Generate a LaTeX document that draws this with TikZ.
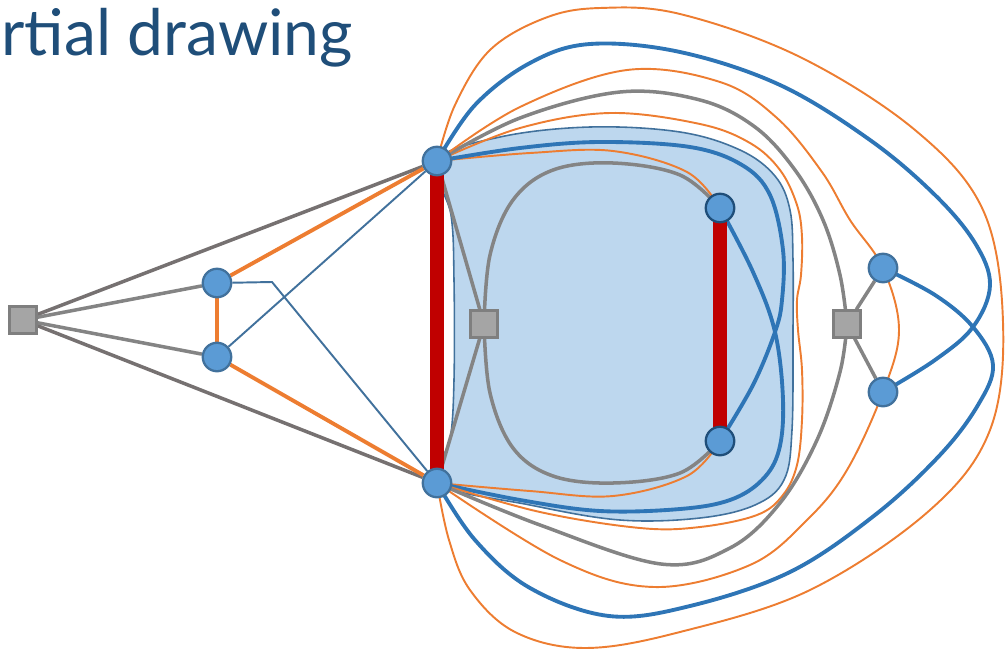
\documentclass[tikz,border=0pt]{standalone}
\usepackage{fontspec}
\setmainfont{Lato}
\definecolor{titleblue}{RGB}{31,78,121}
\definecolor{nodefill}{RGB}{91,155,213}
\definecolor{nodeline}{RGB}{65,113,156}
\definecolor{nodedark}{RGB}{31,78,121}
\definecolor{sqfill}{RGB}{165,165,165}
\definecolor{sqline}{RGB}{127,127,127}
\definecolor{edgegray}{RGB}{132,132,132}
\definecolor{edgedark}{RGB}{118,113,113}
\definecolor{edgeorange}{RGB}{237,125,49}
\definecolor{edgeblue}{RGB}{46,117,182}
\definecolor{thinblue}{RGB}{65,113,156}
\definecolor{regionfill}{RGB}{189,215,238}
\definecolor{barred}{RGB}{192,0,0}
\usetikzlibrary{backgrounds}

\begin{document}
\begin{tikzpicture}[x=0.02cm, y=-0.02cm,
      vtx/.style={circle, fill=nodefill, draw=nodeline, line width=1.3pt,
                  minimum size=0.57cm, inner sep=0pt},
      vtxdark/.style={vtx, draw=nodedark},
      sq/.style={rectangle, fill=sqfill, draw=sqline, line width=1.2pt,
                 minimum size=0.54cm, inner sep=0pt},
      grayedge/.style={edgegray, line width=2pt},
      darkedge/.style={edgedark, line width=2pt},
      orthick/.style={edgeorange, line width=2.2pt},
      orthin/.style={edgeorange, line width=1.1pt},
      bluethick/.style={edgeblue, line width=2.2pt},
      bluethin/.style={thinblue, line width=1.1pt},
      redbar/.style={barred, line width=8.5pt},
      region/.style={fill=regionfill, draw=thinblue, line width=0.9pt},
      curvy/.style={smooth, tension=0.6}
    ]
    \useasboundingbox (0,0) rectangle (1008,653);
    \node[anchor=base west, inner sep=0pt, text=titleblue,
          font=\fontsize{36.5}{42}\selectfont] (title) at (1,55) {rtial drawing};

    % vertices
    \node[sq] (s0) at (23,320) {};
    \node[vtx] (a) at (217,283) {};
    \node[vtx] (b) at (217,357) {};
    \node[vtx] (u) at (437,161) {};
    \node[vtx] (d) at (437,483) {};
    \node[sq] (s1) at (484,324) {};
    \node[vtxdark] (p) at (720,208) {};
    \node[vtxdark] (q) at (720,441) {};
    \node[sq] (s2) at (847,324) {};
    \node[vtx] (r1) at (883,268) {};
    \node[vtx] (r2) at (883,392) {};
    \coordinate (kink) at (272,282);

    \begin{scope}[on background layer]
      % shaded face
      \draw[region] plot[curvy, smooth cycle] coordinates {(u.center) (500,137)
        (590,127) (680,132) (740,150) (775,176) (790,210) (793,260) (793,330)
        (792,430) (784,480) (755,505) (700,518) (620,520) (530,505) (d.center)
        (450,440) (454,380) (454,280) (451,215)};
      % left part
      \draw[darkedge] (s0) -- (u);
      \draw[darkedge] (s0) -- (d);
      \draw[grayedge] (s0) -- (a);
      \draw[grayedge] (s0) -- (b);
      \draw[orthick] (a) -- (b);
      \draw[orthick] (a) -- (u);
      \draw[orthick] (b) -- (d);
      \draw[bluethin] (a) -- (kink) -- (d);
      \draw[bluethin] (b) -- (u);
      % inside the face
      \draw[grayedge] (u) -- (s1);
      \draw[grayedge] (d) -- (s1);
      \draw[grayedge] plot[curvy] coordinates {(s1.center) (490,255) (513,200)
        (553,170) (613,163) (680,175) (p.center)};
      \draw[grayedge] plot[curvy] coordinates {(s1.center) (490,393) (513,448)
        (553,476) (613,483) (680,473) (q.center)};
      \draw[orthin] plot[curvy] coordinates {(u.center) (530,153) (613,151)
        (687,172) (p.center)};
      \draw[orthin] plot[curvy] coordinates {(d.center) (530,491) (613,496)
        (687,476) (q.center)};
      \draw[bluethick] plot[curvy] coordinates {(u.center) (520,148) (600,142)
        (690,147) (742,165) (770,195) (783,250) (782,300) (775,332) (753,385)
        (q.center)};
      \draw[bluethick] plot[curvy] coordinates {(p.center) (753,272) (775,332)
        (783,400) (779,450) (762,480) (730,500) (680,509) (600,511) (520,500)
        (d.center)};
      % around the face
      \draw[orthin] plot[curvy] coordinates {(u.center) (520,128) (610,113)
        (700,124) (750,143) (780,170) (797,205) (802,237) (801,275) (797,300)
        (798,330) (802,370) (802,420) (797,465) (783,495) (757,515) (700,527)
        (640,528) (540,512) (d.center)};
      \draw[grayedge] plot[curvy] coordinates {(u.center) (520,118) (620,92)
        (700,100) (755,127) (795,170) (823,220) (840,275) (s2.center)};
      \draw[grayedge] plot[curvy] coordinates {(d.center) (540,525) (661,564)
        (730,548) (780,503) (817,440) (840,372) (s2.center)};
      \draw[orthin] plot[curvy] coordinates {(u.center) (520,107) (627,70)
        (720,82) (777,118) (822,172) (850,220) (r1.center) (899,330)
        (r2.center) (847,470) (807,520) (750,565) (654,587) (560,560)
        (d.center)};
      \draw[grayedge] (s2) -- (r1);
      \draw[grayedge] (s2) -- (r2);
      % outer curves
      \draw[bluethick] plot[curvy] coordinates {(u.center) (475,105) (530,63)
        (590,44) (680,52) (780,85) (870,140) (935,195) (975,243) (990,285)
        (973,327) (935,360) (r2.center)};
      \draw[bluethick] plot[curvy] coordinates {(d.center) (475,540) (530,588)
        (609,616) (690,606) (790,572) (875,515) (940,455) (978,405) (993,365)
        (973,327) (935,295) (r1.center)};
      \draw[orthin] plot[curvy] coordinates {(u.center) (455,105) (490,50)
        (545,18) (600,8) (680,14) (800,57) (915,130) (983,210) (1003,322)
        (990,430) (930,510) (810,590) (680,632) (585,648) (515,632) (470,590)
        (449,540) (d.center)};
      % red pairs
      \draw[redbar] (u.center) -- (d.center);
      \draw[redbar] (p.center) -- (q.center);
    \end{scope}
  \end{tikzpicture}
\end{document}
